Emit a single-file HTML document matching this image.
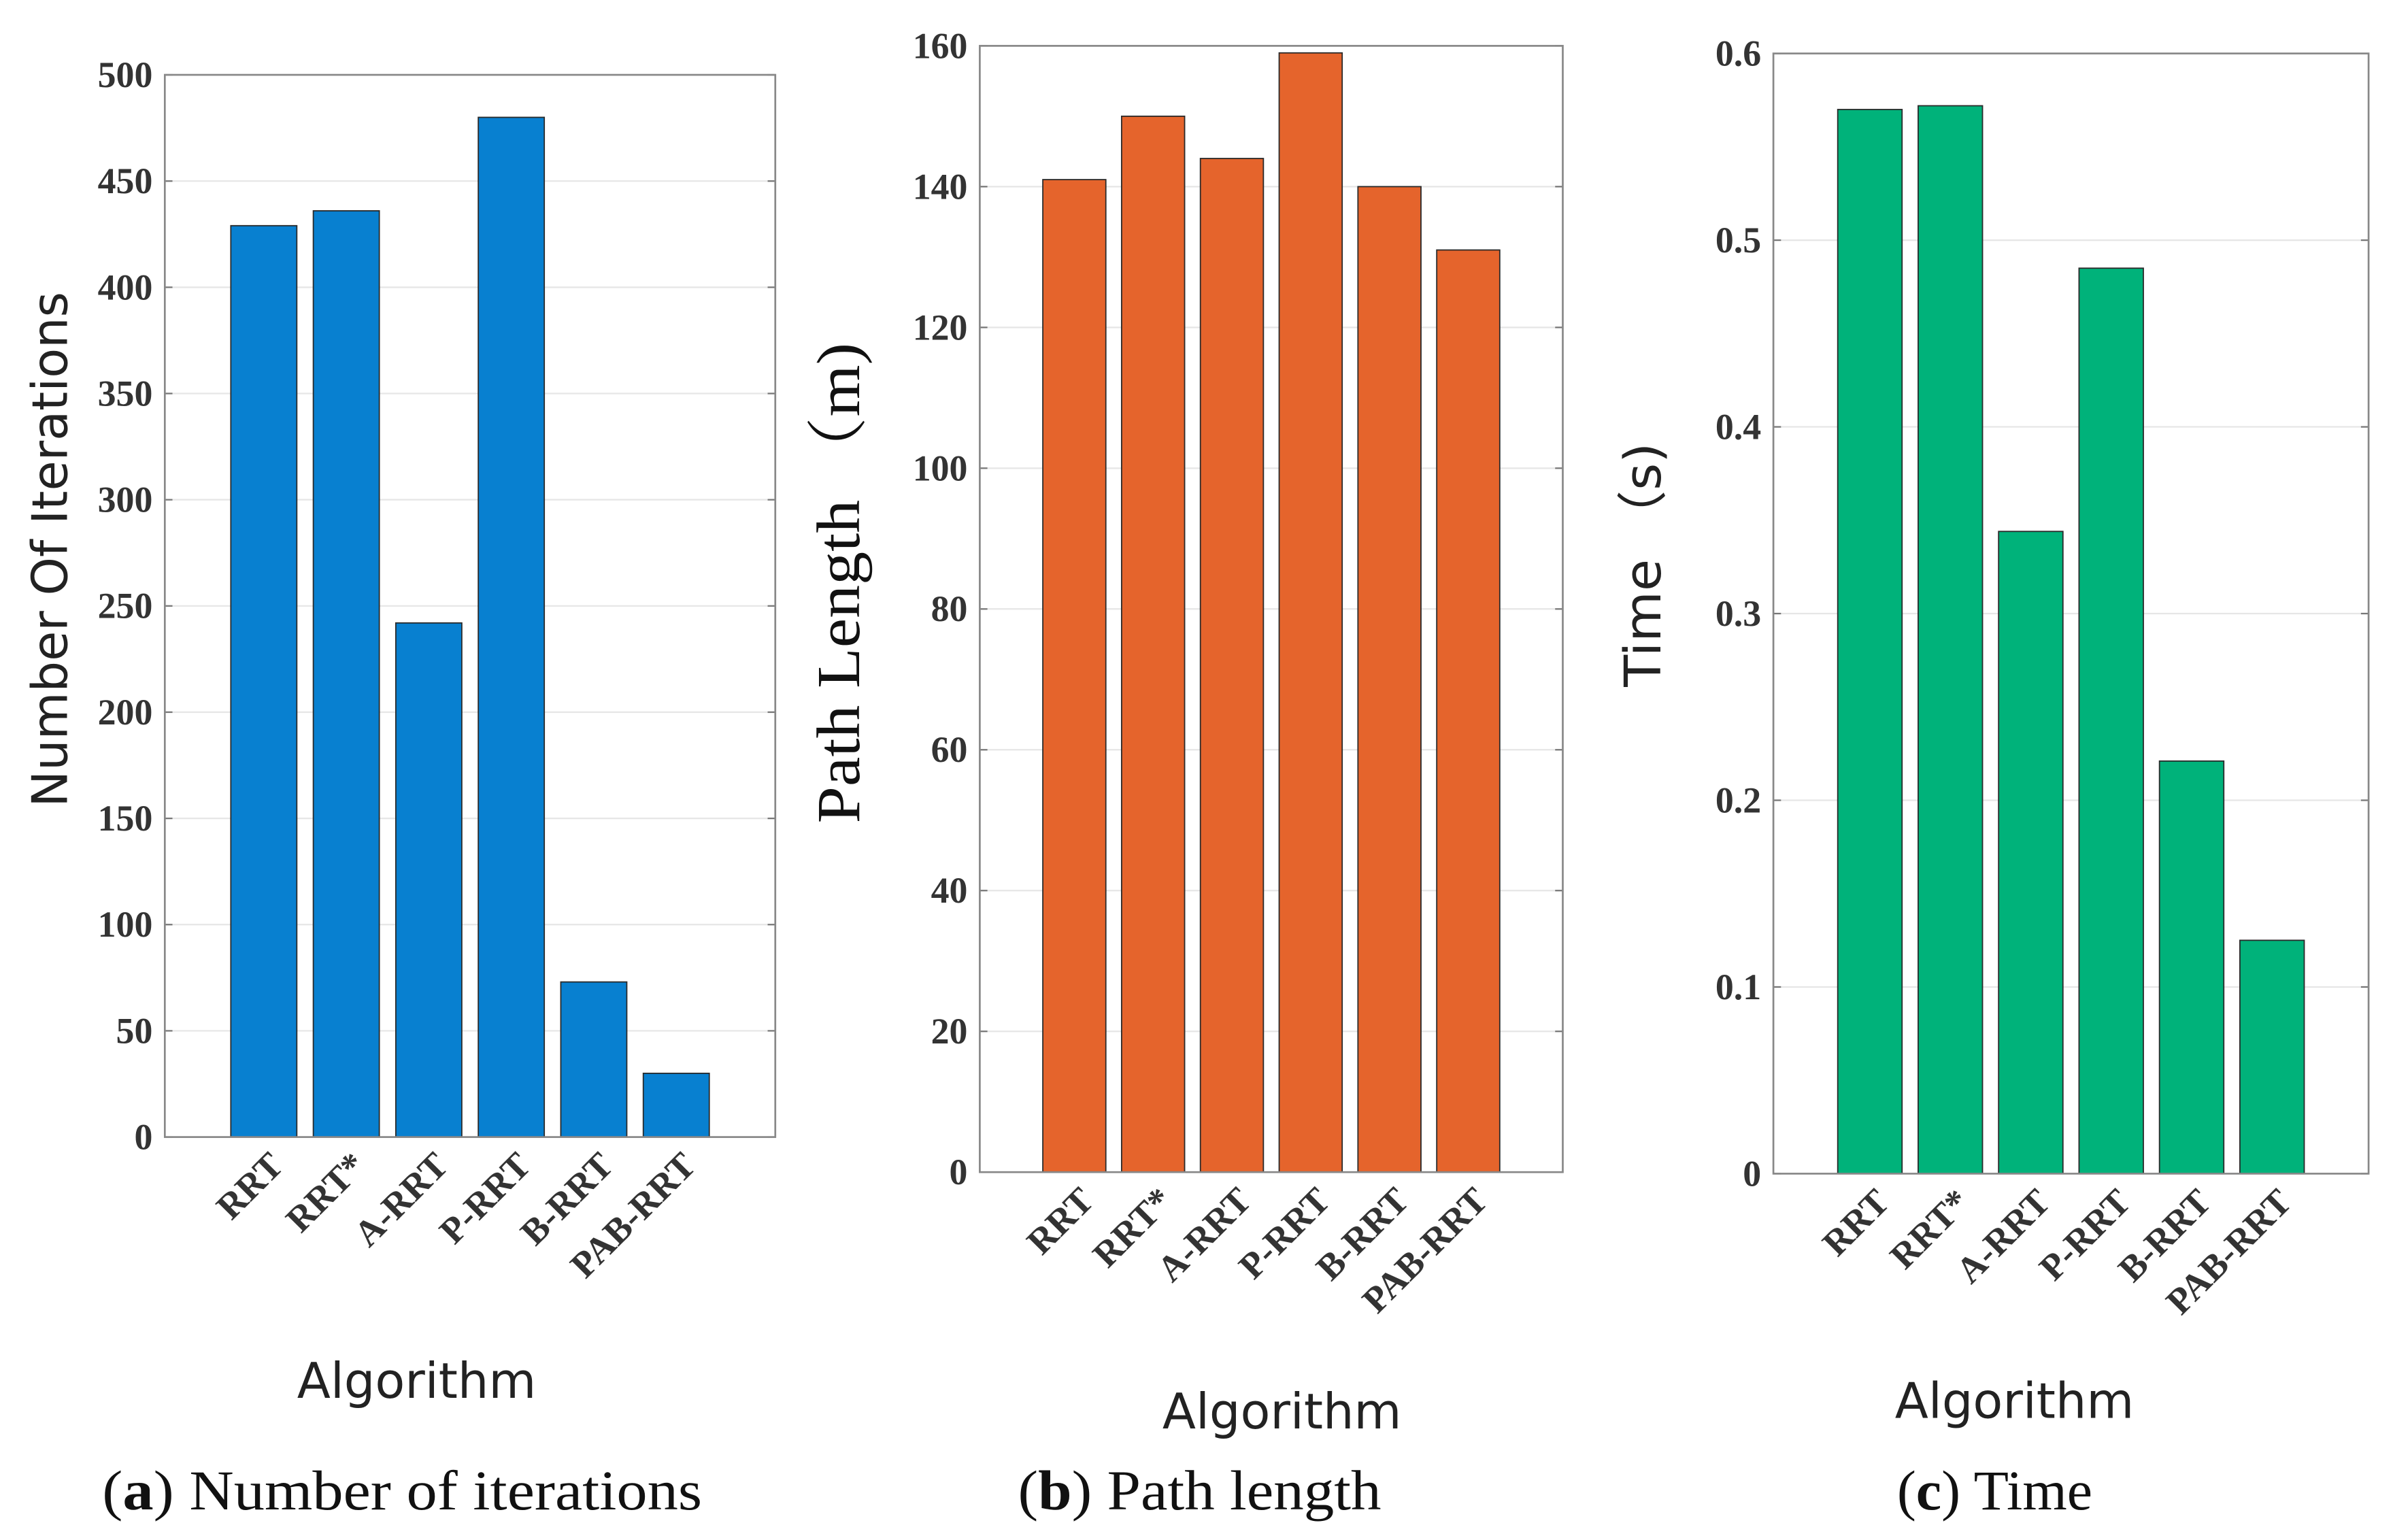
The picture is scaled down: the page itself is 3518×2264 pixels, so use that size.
<!DOCTYPE html>
<html><head><meta charset="utf-8"><style>
html,body{margin:0;padding:0;background:#fff;}
svg{display:block;}
.tick{font-family:"Liberation Serif",serif;font-weight:bold;font-size:24px;fill:#333;}
.sans{font-family:"DejaVu Sans","Liberation Sans",sans-serif;fill:#222;}
.cap{font-family:"Liberation Serif",serif;font-size:37px;fill:#111;}
</style></head><body>
<svg id="fig" width="3518" height="2264" viewBox="0 0 1568 1009" xmlns="http://www.w3.org/2000/svg">
<rect width="1568" height="1009" fill="#fff"/>
</svg>
<script>
const categories = ["RRT","RRT*","A-RRT","P-RRT","B-RRT","PAB-RRT"];
const iterValues = [429,436,242,480,73,30];
const lengthValues = [141,150,144,159,140,131];
const timeValues = [0.570,0.572,0.344,0.485,0.221,0.125];
const iterTicks = [0,50,100,150,200,250,300,350,400,450,500];
const lengthTicks = [0,20,40,60,80,100,120,140,160];
const timeTicks = [0,0.1,0.2,0.3,0.4,0.5,0.6];
const timeTickLabels = ["0","0.1","0.2","0.3","0.4","0.5","0.6"];

const NS="http://www.w3.org/2000/svg";
const svg=document.getElementById('fig');
function mk(tag,attrs,parent){const e=document.createElementNS(NS,tag);for(const k in attrs)e.setAttribute(k,attrs[k]);(parent||svg).appendChild(e);return e;}

function chart(cfg){
  const g=mk('g',{});
  
  
  const {l,r,t,b,ymax}=cfg;
  const x=v=>l+(v+0.2)/7.4*(r-l);
  const y=v=>b-v/ymax*(b-t);
  cfg.ticks.forEach((tv,i)=>{
    const gl=mk('line',{x1:l,x2:r,y1:y(tv),y2:y(tv),stroke:'#e6e6e6','stroke-width':1},g);
    
    
    const tk=mk('text',{x:l-8,y:y(tv)+8,'text-anchor':'end',class:'tick'},g);
    tk.textContent=cfg.labels?cfg.labels[i]:String(tv);
    
    
    mk('line',{x1:l,x2:l+5,y1:y(tv),y2:y(tv),stroke:'#777','stroke-width':1},g);
    mk('line',{x1:r,x2:r-5,y1:y(tv),y2:y(tv),stroke:'#777','stroke-width':1},g);
  });
  cfg.values.forEach((v,i)=>{
    const c=x(i+1);const w=0.8/7.4*(r-l);
    const bar=mk('rect',{x:c-w/2,y:y(v),width:w,height:b-y(v),fill:cfg.color,stroke:'#2a2a2a','stroke-width':0.8},g);
    
    
    const tl=mk('text',{x:0,y:0,'text-anchor':'end',class:'tick',transform:`translate(${c+14},${b+20}) rotate(-45)`},g);
    tl.textContent=categories[i];
    
    
  });
  const box=mk('rect',{x:l,y:t,width:r-l,height:b-t,fill:'none',stroke:'#888','stroke-width':1.2},g);
  
  
}
chart({name:'chart-iterations',l:108,r:508,t:49,b:745,ymax:500,ticks:iterTicks,values:iterValues,color:'#0880d0'});
chart({name:'chart-path-length',l:642,r:1024,t:30,b:768,ymax:160,ticks:lengthTicks,values:lengthValues,color:'#e5642c'});
chart({name:'chart-time',l:1162,r:1552,t:35,b:769,ymax:0.6,ticks:timeTicks,labels:timeTickLabels,values:timeValues,color:'#00b27a'});
</script>
<svg style="position:absolute;left:0;top:0" width="3518" height="2264" viewBox="0 0 1568 1009" xmlns="http://www.w3.org/2000/svg">
<text class="sans" font-size="32" text-anchor="middle" transform="translate(44,360) rotate(-90)">Number Of Iterations</text>
<text font-family="Liberation Serif, Noto Serif CJK SC, serif" font-size="40" fill="#111" text-anchor="middle" transform="translate(563,382) rotate(-90)" textLength="315" lengthAdjust="spacingAndGlyphs">Path Length （m)</text>
<text class="sans" font-size="33" text-anchor="middle" transform="translate(1088,370) rotate(-90)" textLength="160" lengthAdjust="spacingAndGlyphs">Time （s)</text>
<text class="sans" font-size="32" x="273" y="916" text-anchor="middle">Algorithm</text>
<text class="sans" font-size="32" x="840" y="936" text-anchor="middle">Algorithm</text>
<text class="sans" font-size="32" x="1320" y="929" text-anchor="middle">Algorithm</text>
<text class="cap" x="67" y="989" textLength="393" lengthAdjust="spacingAndGlyphs">(<tspan font-weight="bold">a</tspan>) Number of iterations</text>
<text class="cap" x="667" y="989" textLength="238" lengthAdjust="spacingAndGlyphs">(<tspan font-weight="bold">b</tspan>) Path length</text>
<text class="cap" x="1243" y="989" textLength="128" lengthAdjust="spacingAndGlyphs">(<tspan font-weight="bold">c</tspan>) Time</text>
</svg>
</body></html>
